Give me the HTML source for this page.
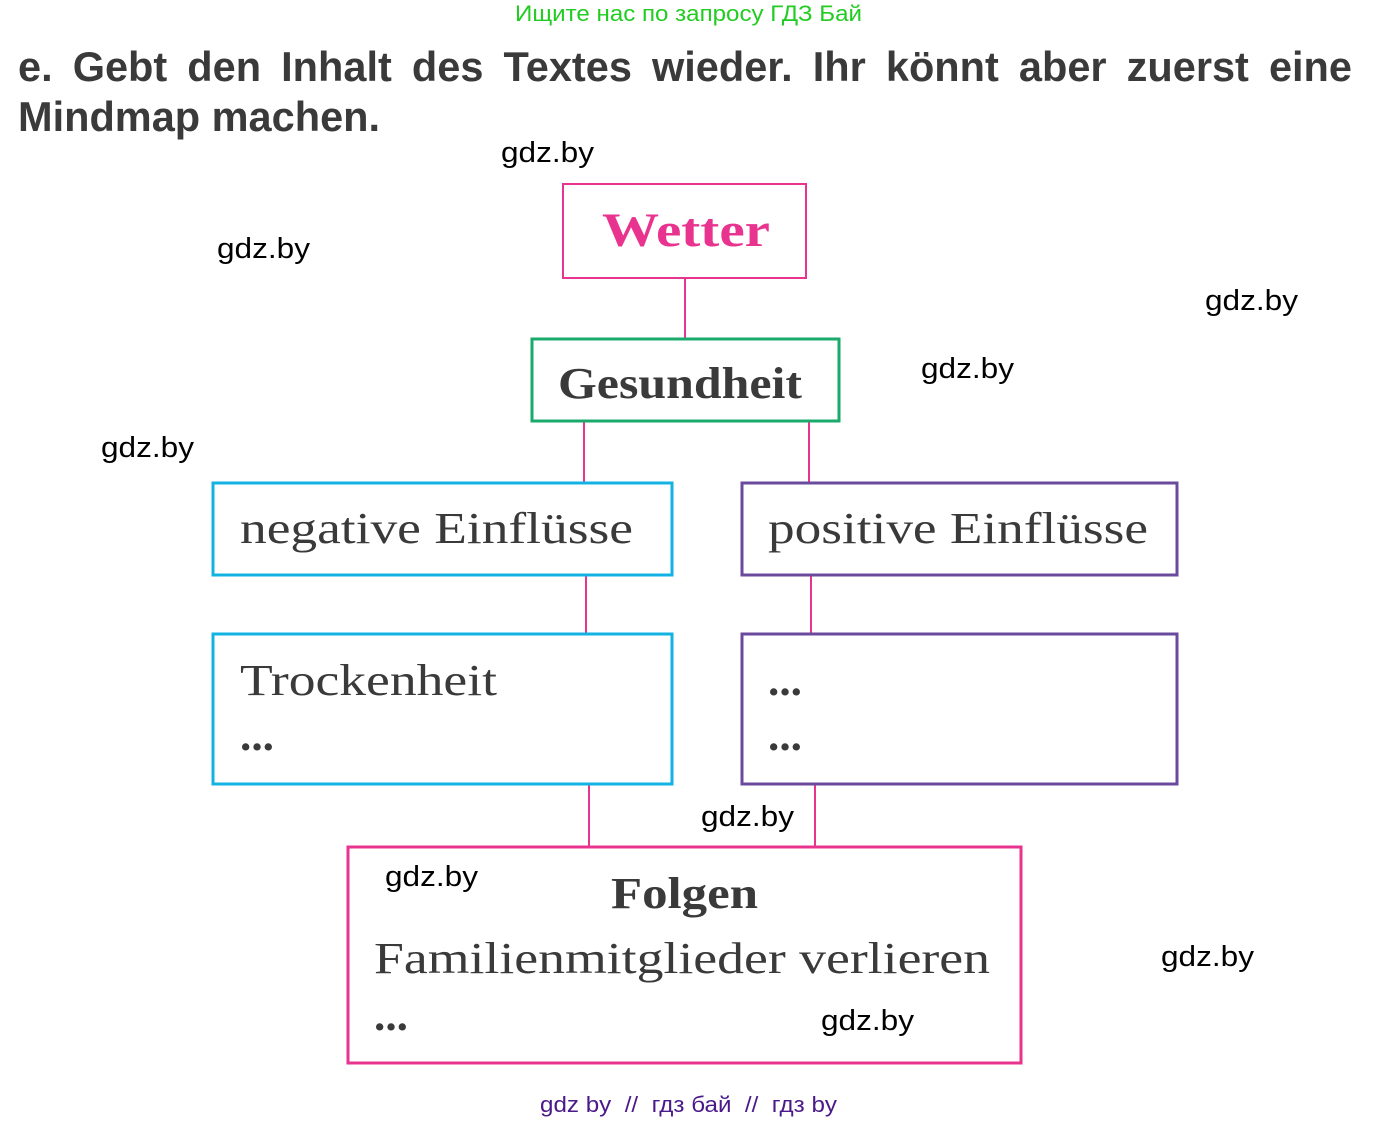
<!DOCTYPE html>
<html><head><meta charset="utf-8"><style>
html,body{margin:0;padding:0;background:#fff;}
body{width:1380px;height:1121px;overflow:hidden;position:relative;}
#t{position:absolute;left:18px;top:42px;width:1334px;font-family:"Liberation Sans",sans-serif;font-weight:bold;font-size:41.5px;line-height:50px;color:#3a3a3a;}
#t .l1{text-align:justify;text-align-last:justify;white-space:nowrap;display:block;}
svg{position:absolute;left:0;top:0;}
</style></head><body>
<svg width="1380" height="1121" xmlns="http://www.w3.org/2000/svg">
<g font-family="Liberation Sans, sans-serif">
<text x="515" y="21" font-size="22" fill="#22cc22" textLength="347" lengthAdjust="spacingAndGlyphs">Ищите нас по запросу ГДЗ Бай</text>
<g font-size="29" fill="#000">
<text x="501" y="162" textLength="93" lengthAdjust="spacingAndGlyphs">gdz.by</text>
<text x="217" y="258" textLength="93" lengthAdjust="spacingAndGlyphs">gdz.by</text>
<text x="1205" y="310" textLength="93" lengthAdjust="spacingAndGlyphs">gdz.by</text>
<text x="921" y="378" textLength="93" lengthAdjust="spacingAndGlyphs">gdz.by</text>
<text x="101" y="457" textLength="93" lengthAdjust="spacingAndGlyphs">gdz.by</text>
<text x="701" y="826" textLength="93" lengthAdjust="spacingAndGlyphs">gdz.by</text>
<text x="385" y="886" textLength="93" lengthAdjust="spacingAndGlyphs">gdz.by</text>
<text x="1161" y="966" textLength="93" lengthAdjust="spacingAndGlyphs">gdz.by</text>
<text x="821" y="1030" textLength="93" lengthAdjust="spacingAndGlyphs">gdz.by</text>
</g>
<text x="540" y="1112" font-size="22" fill="#4b1a8a" xml:space="preserve" textLength="297" lengthAdjust="spacingAndGlyphs">gdz by  //  гдз бай  //  гдз by</text>
</g>
<g fill="none">
<g stroke="#e8338f" stroke-width="2">
<line x1="685" y1="278" x2="685" y2="338"/>
<line x1="584" y1="421" x2="584" y2="482"/>
<line x1="809" y1="421" x2="809" y2="482"/>
<line x1="586" y1="575" x2="586" y2="633"/>
<line x1="811" y1="575" x2="811" y2="633"/>
<line x1="589" y1="784" x2="589" y2="846"/>
<line x1="815" y1="784" x2="815" y2="846"/>
<rect x="563" y="184" width="243" height="94"/>
</g>
<rect x="532" y="339" width="307" height="82" stroke="#1aaa6b" stroke-width="3"/>
<rect x="213" y="483" width="459" height="92" stroke="#12b3e3" stroke-width="3"/>
<rect x="742" y="483" width="435" height="92" stroke="#6a4a9c" stroke-width="3"/>
<rect x="213" y="634" width="459" height="150" stroke="#12b3e3" stroke-width="3"/>
<rect x="742" y="634" width="435" height="150" stroke="#6a4a9c" stroke-width="3"/>
<rect x="348" y="847" width="673" height="216" stroke="#e8338f" stroke-width="3"/>
</g>
<g font-family="Liberation Serif, serif" font-size="44" fill="#3a3a3a">
<text x="602" y="246" font-weight="bold" fill="#e8338f" font-size="48" textLength="168" lengthAdjust="spacingAndGlyphs">Wetter</text>
<text x="558" y="398" font-weight="bold" textLength="244" lengthAdjust="spacingAndGlyphs">Gesundheit</text>
<text x="240" y="543" textLength="393" lengthAdjust="spacingAndGlyphs">negative Einflüsse</text>
<text x="768" y="543" textLength="380" lengthAdjust="spacingAndGlyphs">positive Einflüsse</text>
<text x="240" y="695" textLength="257" lengthAdjust="spacingAndGlyphs">Trockenheit</text>
<g font-weight="bold">
<text x="240" y="750" textLength="34" lengthAdjust="spacingAndGlyphs">...</text>
<text x="768" y="695" textLength="34" lengthAdjust="spacingAndGlyphs">...</text>
<text x="768" y="750" textLength="34" lengthAdjust="spacingAndGlyphs">...</text>
<text x="374" y="1030" textLength="34" lengthAdjust="spacingAndGlyphs">...</text>
</g>
<text x="611" y="908" font-weight="bold" textLength="147" lengthAdjust="spacingAndGlyphs">Folgen</text>
<text x="374" y="973" textLength="616" lengthAdjust="spacingAndGlyphs">Familienmitglieder verlieren</text>
</g>
</svg>
<div id="t"><span class="l1">e. Gebt den Inhalt des Textes wieder. Ihr könnt aber zuerst eine</span>Mindmap machen.</div>
</body></html>
